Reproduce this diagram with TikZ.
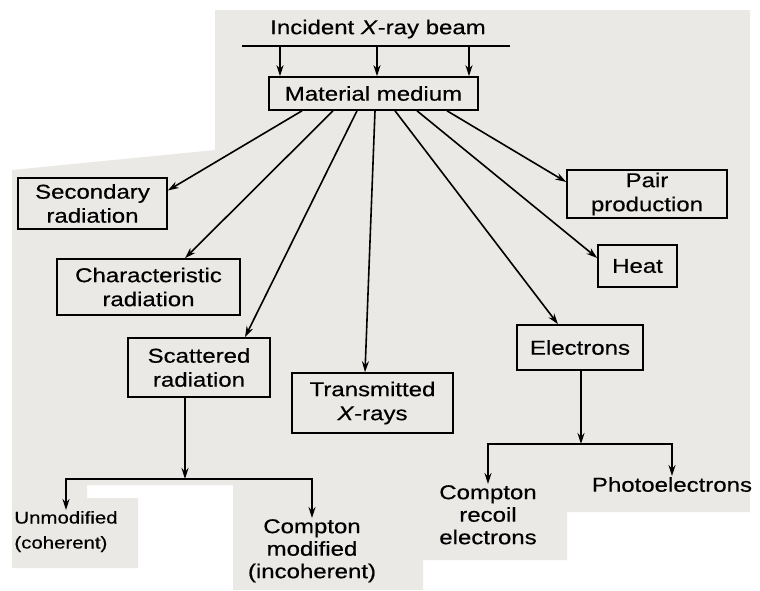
\documentclass[tikz,border=0pt]{standalone}
\usepackage{fontspec}
\setmainfont{Liberation Sans}[FakeStretch=1.2, FakeBold=0.4]
\usetikzlibrary{arrows.meta,calc}
\definecolor{paper}{RGB}{234,233,230}
\begin{document}
\begin{tikzpicture}[x=1pt,y=-1pt,
		box/.style={draw, line width=1.6pt, align=center, inner sep=2pt, font=\fontsize{20}{24}\selectfont},
		lbl/.style={align=center, inner sep=1pt, font=\fontsize{20}{22.5}\selectfont},
		arrow/.style={line width=1.6pt, -{Stealth[length=11pt,width=7pt]}}]
		\useasboundingbox (0,0) rectangle (760,590);
		% scanned page
		\fill[paper] (215,10) -- (750,10) -- (750,512) -- (567,512) -- (567,560) -- (423,560) -- (423,590)
			-- (233,590) -- (233,485) -- (87,485) -- (87,498) -- (138,498) -- (138,568) -- (12,568)
			-- (12,170) -- (215,150) -- cycle;
		% beam and medium
		\node[lbl] (beam) at (378,29) {Incident \textit{X}-ray beam};
		\coordinate (rayL) at (242,46);
		\coordinate (rayR) at (510,46);
		\draw[line width=1.6pt] (rayL) -- (rayR);
		\node[box, minimum width=209, minimum height=33] (medium) at (373.5,93.5) {Material medium};
		\foreach \dx in {-93.5, 3.5, 95.5}
			\draw[arrow] ([xshift=\dx pt, yshift=31pt]medium.north) -- ([xshift=\dx pt]medium.north);
		% products
		\node[box, minimum width=149, minimum height=51] (secondary) at (92.5,203.5) {Secondary\\radiation};
		\node[box, minimum width=183, minimum height=56] (characteristic) at (148.5,287) {Characteristic\\radiation};
		\node[box, minimum width=142, minimum height=59] (scattered) at (199,367.5) {Scattered\\radiation};
		\node[box, minimum width=161, minimum height=60] (transmitted) at (372.5,403) {Transmitted\\\textit{X}-rays};
		\node[box, minimum width=126, minimum height=45] (electrons) at (580,347.5) {Electrons};
		\node[box, minimum width=160, minimum height=48] (pair) at (647,194) {Pair\\production};
		\node[box, minimum width=79, minimum height=42] (heat) at (637.5,266) {Heat};
		\draw[arrow] ([xshift=-71.5pt]medium.south) -- ([yshift=13pt]secondary.east);
		\draw[arrow] ([xshift=-40.5pt]medium.south) -- ([xshift=36.5pt]characteristic.north);
		\draw[arrow] ([xshift=-16.5pt]medium.south) -- ([xshift=46pt]scattered.north);
		\draw[arrow] ([xshift=1.5pt]medium.south) -- ([xshift=-7.5pt]transmitted.north);
		\draw[arrow] ([xshift=21.5pt]medium.south) -- ([xshift=-22pt]electrons.north);
		\draw[arrow] ([xshift=43.5pt]medium.south) -- ([yshift=8pt]heat.west);
		\draw[arrow] ([xshift=73.5pt]medium.south) -- ([yshift=12pt]pair.west);
		% scattered radiation
		\node[lbl, anchor=north, align=left, font=\fontsize{17}{25}\selectfont] (unmod) at (66,510) {Unmodified\\(coherent)};
		\node[lbl, anchor=north] (modified) at (312,518) {Compton\\modified\\(incoherent)};
		\coordinate (sfork) at (185,479);
		\draw[arrow] ([xshift=-14pt]scattered.south) -- (sfork);
		\draw[arrow] (sfork) -| (unmod.north);
		\draw[arrow] (sfork) -| (modified.north);
		% electrons
		\node[lbl, anchor=north] (recoil) at (488,484) {Compton\\recoil\\electrons};
		\node[lbl, anchor=north] (photo) at (672,476) {Photoelectrons};
		\coordinate (efork) at (581,444);
		\draw[arrow] ([xshift=1pt]electrons.south) -- (efork);
		\draw[arrow] (efork) -| (recoil.north);
		\draw[arrow] (efork) -| (photo.north);
\end{tikzpicture}
\end{document}
